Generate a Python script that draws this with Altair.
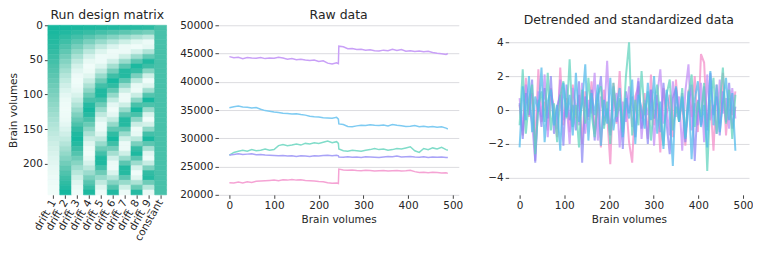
import altair as alt
import pandas as pd

FONT = "DejaVu Sans"

# ---------------- Run design matrix ----------------
design_columns = ["drift_1", "drift_2", "drift_3", "drift_4", "drift_5",
                  "drift_6", "drift_7", "drift_8", "drift_9", "constant"]
row_start = [0, 7, 14, 21, 28, 35, 42, 49, 56, 63, 70, 77, 84, 91, 98, 105, 112,
             119, 126, 133, 140, 147, 154, 161, 168, 175, 182, 189, 196, 203,
             210, 217, 224, 231, 238]
row_height = 7

drift_1 = [1.00, 0.99, 0.97, 0.95, 0.92, 0.88, 0.83, 0.78, 0.72, 0.66, 0.59, 0.51,
           0.43, 0.35, 0.27, 0.18, 0.09, 0.00, -0.09, -0.18, -0.27, -0.35, -0.43,
           -0.51, -0.59, -0.66, -0.72, -0.78, -0.83, -0.88, -0.92, -0.95, -0.97,
           -0.99, -1.00]
drift_2 = [1.00, 0.96, 0.90, 0.81, 0.69, 0.55, 0.39, 0.22, 0.05, -0.13, -0.31,
           -0.47, -0.62, -0.75, -0.86, -0.94, -0.98, -1.00, -0.98, -0.94, -0.86,
           -0.75, -0.62, -0.47, -0.31, -0.13, 0.05, 0.22, 0.39, 0.55, 0.69, 0.81,
           0.90, 0.96, 1.00]
drift_3 = [0.99, 0.92, 0.78, 0.59, 0.35, 0.09, -0.18, -0.43, -0.66, -0.83, -0.95,
           -1.00, -0.97, -0.88, -0.72, -0.51, -0.27, 0.00, 0.27, 0.51, 0.72, 0.88,
           0.97, 1.00, 0.95, 0.83, 0.66, 0.43, 0.18, -0.09, -0.35, -0.59, -0.78,
           -0.92, -0.99]
drift_4 = [0.98, 0.86, 0.62, 0.31, -0.05, -0.39, -0.69, -0.90, -1.00, -0.96, -0.81,
           -0.55, -0.22, 0.13, 0.47, 0.75, 0.94, 1.00, 0.94, 0.75, 0.47, 0.13,
           -0.22, -0.55, -0.81, -0.96, -1.00, -0.90, -0.69, -0.39, -0.05, 0.31,
           0.62, 0.86, 0.98]
drift_5 = [0.97, 0.78, 0.43, 0.00, -0.43, -0.78, -0.97, -0.97, -0.78, -0.43, 0.00,
           0.43, 0.78, 0.97, 0.97, 0.78, 0.43, 0.00, -0.43, -0.78, -0.97, -0.97,
           -0.78, -0.43, 0.00, 0.43, 0.78, 0.97, 0.97, 0.78, 0.43, 0.00, -0.43,
           -0.78, -0.97]
drift_6 = [0.96, 0.69, 0.22, -0.31, -0.75, -0.98, -0.94, -0.62, -0.13, 0.39, 0.81,
           1.00, 0.90, 0.55, 0.05, -0.47, -0.86, -1.00, -0.86, -0.47, 0.05, 0.55,
           0.90, 1.00, 0.81, 0.39, -0.13, -0.62, -0.94, -0.98, -0.75, -0.31, 0.22,
           0.69, 0.96]
drift_7 = [0.95, 0.59, 0.00, -0.59, -0.95, -0.95, -0.59, 0.00, 0.59, 0.95,
           0.95, 0.59, 0.00, -0.59, -0.95, -0.95, -0.59, 0.00, 0.59, 0.95,
           0.95, 0.59, 0.00, -0.59, -0.95, -0.95, -0.59, 0.00, 0.59, 0.95,
           0.95, 0.59, 0.00, -0.59, -0.95]
drift_8 = [0.94, 0.47, -0.22, -0.81, -1.00, -0.69, -0.05, 0.62, 0.98, 0.86, 0.31,
           -0.39, -0.90, -0.96, -0.55, 0.13, 0.75, 1.00, 0.75, 0.13, -0.55, -0.96,
           -0.90, -0.39, 0.31, 0.86, 0.98, 0.62, -0.05, -0.69, -1.00, -0.81, -0.22,
           0.47, 0.94]
drift_9 = [0.92, 0.35, -0.43, -0.95, -0.88, -0.27, 0.51, 0.97, 0.83, 0.18, -0.59,
           -0.99, -0.78, -0.09, 0.66, 1.00, 0.72, 0.00, -0.72, -1.00, -0.66, 0.09,
           0.78, 0.99, 0.59, -0.18, -0.83, -0.97, -0.51, 0.27, 0.88, 0.95, 0.43,
           -0.35, -0.92]
constant = [0.75] * 35

design_values = [drift_1, drift_2, drift_3, drift_4, drift_5,
                 drift_6, drift_7, drift_8, drift_9, constant]

design_rows = []
for col, vals in zip(design_columns, design_values):
    for s, v in zip(row_start, vals):
        design_rows.append({"column": col, "start": s, "end": s + row_height, "value": v})
design_df = pd.DataFrame(design_rows)

# ---------------- Raw data ----------------
series_names = ["s1", "s2", "s3", "s4", "s5"]
series_colors = ["#c9a0f7", "#7ecbf2", "#80dcc9", "#a9a3f7", "#f5a3d4"]
det_colors = ["#c08cf5", "#4fb8ea", "#5ed2bc", "#8a86f2", "#f28bc8"]

raw_volumes = [0, 10, 20, 30, 40, 50, 60, 70, 80, 90, 100, 110, 120, 130, 140, 150,
               160, 170, 180, 190, 200, 210, 220, 230, 240, 244,
               245, 255, 265, 275, 285, 295, 305, 315, 325, 335, 345, 355, 365, 375,
               385, 395, 405, 415, 425, 435, 445, 455, 465, 475, 485, 489]

raw_s1 = [44450, 44250, 44350, 44100, 44300, 44200, 44150, 44300, 44100, 44200,
          44150, 44350, 44200, 44000, 44100, 43900, 44000, 43850, 43750, 43850,
          43600, 43700, 43300, 43150, 43350, 43200,
          46300, 46200, 45850, 45900, 45700, 45750, 45600, 45650, 45500, 45450,
          45600, 45500, 45750, 45550, 45700, 45400, 45500, 45350, 45450, 45300,
          45400, 45200, 45050, 44950, 44850, 45000]
raw_s2 = [35400, 35600, 35700, 35550, 35500, 35350, 35450, 35150, 34900, 34800,
          34650, 34550, 34450, 34400, 34300, 34350, 34200, 34100, 33900, 33800,
          33750, 33650, 33600, 33550, 33700, 33400,
          32550, 32450, 32100, 32050, 32200, 32300, 32250, 32400, 32300, 32250,
          32350, 32200, 32450, 32300, 32200, 32100, 32150, 32250, 32050, 32150,
          32000, 32100, 31950, 32050, 31800, 31650]
raw_s3 = [27000, 27500, 27700, 27900, 27700, 28000, 27800, 27900, 28100, 27900,
          28000, 28700, 28900, 28700, 28800, 29000, 28800, 29100, 29000, 29200,
          29100, 29300, 29500, 29200, 29400, 29100,
          28100, 27800, 27700, 27900, 27800, 27700, 27900, 28000, 28200, 28000,
          28100, 27900, 28000, 28200, 28100, 28300, 28500, 27800, 27500, 28200,
          28000, 28300, 28100, 28400, 28000, 27900]
raw_s4 = [27050, 27150, 27250, 27150, 27200, 27250, 27100, 27150, 27050, 27000,
          26950, 26900, 26950, 26850, 26900, 26800, 26900, 26850, 26800, 26900,
          26850, 26950, 27000, 26900, 27000, 26900,
          26700, 26650, 26750, 26650, 26700, 26600, 26750, 26700, 26650, 26600,
          26700, 26800, 26750, 26850, 26700, 26750, 26800, 26700, 26650, 26750,
          26600, 26700, 26650, 26700, 26600, 26600]
raw_s5 = [22150, 22100, 22250, 22100, 22300, 22200, 22400, 22450, 22500, 22550,
          22600, 22500, 22650, 22600, 22700, 22600, 22650, 22550, 22500, 22450,
          22350, 22300, 22150, 22050, 22100, 22000,
          24550, 24400, 24350, 24400, 24300, 24250, 24350, 24300, 24200, 24250,
          24300, 24200, 24250, 24300, 24200, 24250, 24350, 24100, 23950, 24000,
          23900, 24000, 23950, 23850, 23900, 23800]
raw_series = [raw_s1, raw_s2, raw_s3, raw_s4, raw_s5]

raw_rows = []
for name, vals in zip(series_names, raw_series):
    for v, y in zip(raw_volumes, vals):
        raw_rows.append({"series": name, "volume": v, "signal": y})
raw_df = pd.DataFrame(raw_rows)

# ---------------- Detrended and standardized data ----------------
det_volumes = [0, 7, 14, 21, 28, 35, 42, 49, 56, 63, 70, 77, 84, 91, 98, 105, 112,
               119, 126, 133, 140, 147, 154, 161, 168, 175, 182, 189, 196, 203,
               210, 217, 224, 231, 238, 245, 252, 259, 266, 273, 280, 287, 294,
               301, 308, 315, 322, 329, 336, 343, 350, 357, 364, 371, 378, 385,
               392, 399, 406, 413, 420, 427, 434, 441, 448, 455, 462, 469, 476, 483]

det_s1 = [0.7, -1.2, 1.5, 0.3, -0.8, -3.0, 1.1, -0.4, 2.1, -1.6,
          0.9, 0.2, -1.1, 1.8, -0.6, 0.4, -2.0, 1.3, 0.1, -0.9,
          1.6, -1.4, 0.6, -0.2, 2.2, -1.8, 0.8, -0.5, 2.9, -1.3,
          0.3, 1.0, -2.2, 0.5, -0.7, 1.4, -1.0, 0.2, 1.9, -1.7,
          0.6, -0.3, 1.2, -2.1, 0.9, 2.4, -0.8, 0.1, -1.5, 1.7,
          -0.4, 0.8, -2.4, 1.1, 2.7, -1.2, 0.4, -0.9, 1.6, -1.9,
          2.1, -0.6, 0.3, -1.4, 1.8, -0.2, 0.7, -1.1, 1.3, -0.5]
det_s2 = [-2.2, 1.4, -0.6, 2.0, -1.3, 0.8, -0.1, 2.5, -1.9, 0.5,
          1.2, -0.9, 0.3, -2.4, 1.6, -0.4, 0.9, -1.5, 2.2, -0.7,
          0.4, 2.7, -1.8, 1.0, -0.3, 1.5, -2.1, 0.6, -0.8, 1.9,
          -1.2, 0.2, 1.3, -1.6, 0.7, -0.5, 1.8, -2.0, 0.9, 0.1,
          -1.1, 1.6, -0.6, 2.0, -1.4, 0.5, -2.3, 1.2, -0.2, -3.3,
          1.4, -0.7, 0.8, -1.7, 1.1, -2.9, 0.6, 1.7, -1.0, 0.3,
          -2.2, 2.3, -0.9, 1.5, -1.3, 0.4, 1.9, -0.6, 1.0, -2.4]
det_s3 = [-0.9, 2.4, -1.4, 0.6, 1.5, -2.6, 0.2, 1.1, -0.7, 2.2,
          -1.2, 0.4, -1.9, 0.8, 1.7, -0.5, 3.0, -1.0, 0.3, -2.2,
          1.2, -0.8, 1.9, -0.2, -1.6, 0.9, 1.4, -1.1, 0.5, -2.0,
          1.6, -0.4, 0.7, -1.3, 2.0, 4.0, -1.5, 0.6, -0.9, 2.3,
          -0.3, 1.1, -1.8, 0.4, 1.5, -0.6, -2.1, 0.9, 1.8, -1.2,
          0.2, -0.7, 1.3, -1.6, 0.8, 2.1, -1.0, 0.5, -0.4, 1.6,
          -3.6, 0.7, 1.9, -1.4, 0.3, 2.5, -0.8, 1.2, -1.7, 0.9]
det_s4 = [0.4, -1.7, 1.0, -0.3, 1.8, -3.1, 0.6, -1.0, 1.3, -0.5,
          2.0, -1.4, 0.2, 0.9, -2.1, 1.5, -0.6, 0.3, -1.2, 1.7,
          -3.1, 0.8, -0.4, 1.2, -1.8, 0.5, 2.0, -0.9, 0.1, -1.5,
          1.4, -0.7, 0.6, -2.3, 1.1, -0.2, 0.8, -1.6, 1.7, -1.1,
          0.4, -2.0, 1.2, -0.5, 0.9, -1.3, 1.6, -0.8, -2.6, 0.7,
          1.3, -0.6, 1.0, -1.9, 0.3, 1.5, -3.0, 0.6, -0.9, 1.4,
          -1.2, 2.2, -0.3, 0.8, -1.5, 1.1, -0.7, 1.6, -1.1, 0.2]
det_s5 = [0.3, -1.5, 1.9, -0.4, 1.0, -1.8, 2.4, -0.7, 0.5, -1.2,
          1.3, -0.2, -1.6, 2.5, -0.9, 0.7, -1.3, 1.5, -0.5, 0.9,
          -2.0, 1.1, -0.6, 1.7, -1.4, 0.4, -2.2, 1.2, -0.3, -3.2,
          1.6, -0.8, 2.3, -1.1, 0.6, -1.9, -3.1, 0.8, 1.4, -0.5,
          1.0, -1.7, 2.1, -0.9, 0.4, -2.5, 1.3, -0.2, 0.9, -1.6,
          1.8, -0.7, 0.5, -2.1, 1.2, -0.4, 2.0, -1.3, 3.3, 2.8,
          -1.0, 0.6, -2.4, 1.5, -0.8, 2.2, -1.5, 0.7, -0.3, 1.1]
det_series = [det_s1, det_s2, det_s3, det_s4, det_s5]
det_draw_order = ["s5", "s1", "s4", "s3", "s2"]

det_rows = []
for name in det_draw_order:
    vals = det_series[series_names.index(name)]
    for v, y in zip(det_volumes, vals):
        det_rows.append({"series": name, "volume": v, "signal": y})
det_df = pd.DataFrame(det_rows)

# ---------------- Charts ----------------
title_style = dict(font=FONT, fontSize=12.5, fontWeight="normal", color="#262626", offset=-1)
heat_scale = alt.Scale(domain=[-1, 1], range=["#f0fcf9", "#16b89f"])
x_scale = alt.Scale(domain=[-24.5, 513.5], nice=False, zero=False)

heat = alt.Chart(design_df).mark_rect(strokeWidth=0.6).encode(
    x=alt.X("column:N", sort=design_columns,
            scale=alt.Scale(paddingInner=0, paddingOuter=0),
            axis=alt.Axis(title=None, labelAngle=-60, labelAlign="right",
                          labelBaseline="middle", labelPadding=2)),
    y=alt.Y("start:Q", scale=alt.Scale(domain=[0, 245], reverse=True, nice=False, zero=False),
            axis=alt.Axis(values=[0, 50, 100, 150, 200], title="Brain volumes",
                          grid=False, titlePadding=4)),
    y2="end:Q",
    color=alt.Color("value:Q", scale=heat_scale, legend=None),
    stroke=alt.Stroke("value:Q", scale=heat_scale, legend=None),
).properties(width=119, height=170,
             title=alt.TitleParams("Run design matrix", **title_style))

raw = alt.Chart(raw_df).mark_line(strokeWidth=1.5).encode(
    x=alt.X("volume:Q", scale=x_scale,
            axis=alt.Axis(values=[0, 100, 200, 300, 400, 500], title="Brain volumes",
                          grid=False, labelFlush=False, titlePadding=4)),
    y=alt.Y("signal:Q", scale=alt.Scale(domain=[20000, 50000], nice=False, zero=False),
            axis=alt.Axis(values=[20000, 25000, 30000, 35000, 40000, 45000, 50000],
                          format="d", title=None, grid=True, minExtent=41)),
    color=alt.Color("series:N", scale=alt.Scale(domain=series_names, range=series_colors),
                    legend=None),
).properties(width=241, height=170,
             title=alt.TitleParams("Raw data", **title_style))

det = alt.Chart(det_df).mark_line(strokeWidth=2.0, opacity=0.72).encode(
    x=alt.X("volume:Q", scale=x_scale,
            axis=alt.Axis(values=[0, 100, 200, 300, 400, 500], title="Brain volumes",
                          grid=False, labelFlush=False, titlePadding=4)),
    y=alt.Y("signal:Q", scale=alt.Scale(domain=[-5, 5], nice=False, zero=False),
            axis=alt.Axis(values=[-4, -2, 0, 2, 4], title=None, grid=True, minExtent=36)),
    color=alt.Color("series:N", scale=alt.Scale(domain=series_names, range=det_colors),
                    legend=None),
    order=alt.Order("volume:Q"),
).properties(width=241, height=170,
             title=alt.TitleParams("Detrended and standardized data", **title_style))

chart = alt.hconcat(heat, raw, det, spacing=10).properties(
    padding={"left": 0, "top": 0, "right": 0, "bottom": 0}
).configure_axis(
    labelFont=FONT, labelFontSize=10.5, labelColor="#262626",
    titleFont=FONT, titleFontSize=10.5, titleFontWeight="normal", titleColor="#262626",
    tickColor="#444444", tickSize=3.5, tickWidth=1, domain=False,
    gridColor="#dcdce0", gridWidth=1,
).configure_view(stroke=None)

chart.save("out.html", embed_options={"renderer": "svg", "actions": False})
